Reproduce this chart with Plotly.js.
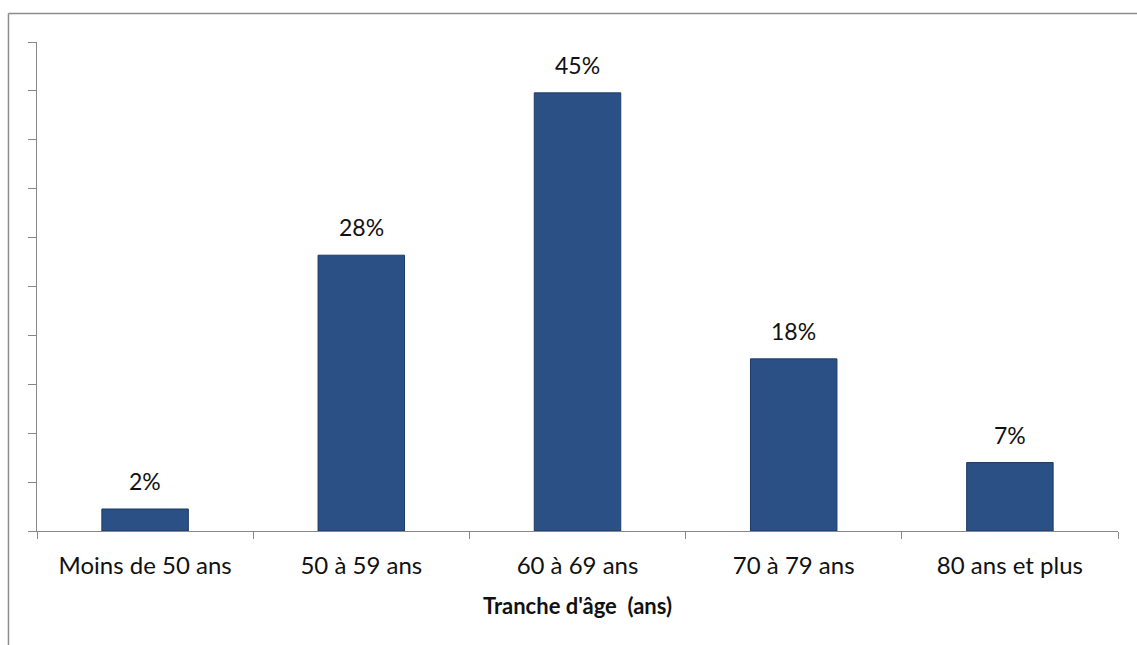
<!DOCTYPE html>
<html>
<head>
<meta charset="utf-8">
<script src="https://cdn.plot.ly/plotly-3.0.1.min.js"></script>
<style>html,body{margin:0;padding:0;background:#fff;}#chart{width:1137px;height:645px;}</style>
</head>
<body>
<div id="chart"></div>
<script>
var categories = ['Moins de 50 ans', '50 à 59 ans', '60 à 69 ans', '70 à 79 ans', '80 ans et plus'];
var shares = [2.25, 28.2, 44.8, 17.6, 7.0];
var shareLabels = ['2%', '28%', '45%', '18%', '7%'];
var xTitle = "Tranche d'âge  (ans)";

var font = 'Lato, "Open Sans", "Liberation Sans", sans-serif';

var trace = {
  type: 'bar',
  x: categories,
  y: shares,
  marker: {color: '#2a5086', line: {color: '#1c3a66', width: 1}},
  hoverinfo: 'none'
};

var annotations = categories.map(function (c, i) {
  return {
    x: c, y: shares[i], xref: 'x', yref: 'y',
    text: shareLabels[i], showarrow: false,
    yanchor: 'bottom', yshift: 12,
    font: {family: font, size: 23, color: '#111111'}
  };
});

var layout = {
  width: 1137, height: 645,
  margin: {l: 37, r: 19, t: 42, b: 114},
  paper_bgcolor: '#ffffff',
  plot_bgcolor: '#ffffff',
  bargap: 0.6,
  showlegend: false,
  font: {family: font, size: 23, color: '#111111'},
  annotations: annotations,
  xaxis: {
    type: 'category',
    showline: true, linecolor: '#888888', linewidth: 1,
    ticks: 'outside', tickson: 'boundaries', ticklen: 7, tickcolor: '#888888',
    ticklabelstandoff: 13,
    showgrid: false, zeroline: false,
    tickfont: {family: font, size: 24, color: '#111111'},
    title: {text: '<b>' + xTitle + '</b>', font: {family: font, size: 22, color: '#111111'}, standoff: 20}
  },
  yaxis: {
    range: [0, 50], dtick: 5, tick0: 0,
    showline: true, linecolor: '#888888', linewidth: 1,
    ticks: 'outside', ticklen: 8, tickcolor: '#888888',
    showticklabels: false, showgrid: false, zeroline: false
  },
  shapes: [
    {type: 'line', xref: 'paper', yref: 'paper', x0: -0.0264, x1: 1.02, y0: 1.0583, y1: 1.0583, line: {color: '#8c8c8c', width: 1.5}},
    {type: 'line', xref: 'paper', yref: 'paper', x0: -0.0264, x1: -0.0264, y0: 1.0583, y1: -0.24, line: {color: '#8c8c8c', width: 1.5}}
  ]
};

Plotly.newPlot('chart', [trace], layout, {displayModeBar: false, staticPlot: true});
</script>
</body>
</html>
